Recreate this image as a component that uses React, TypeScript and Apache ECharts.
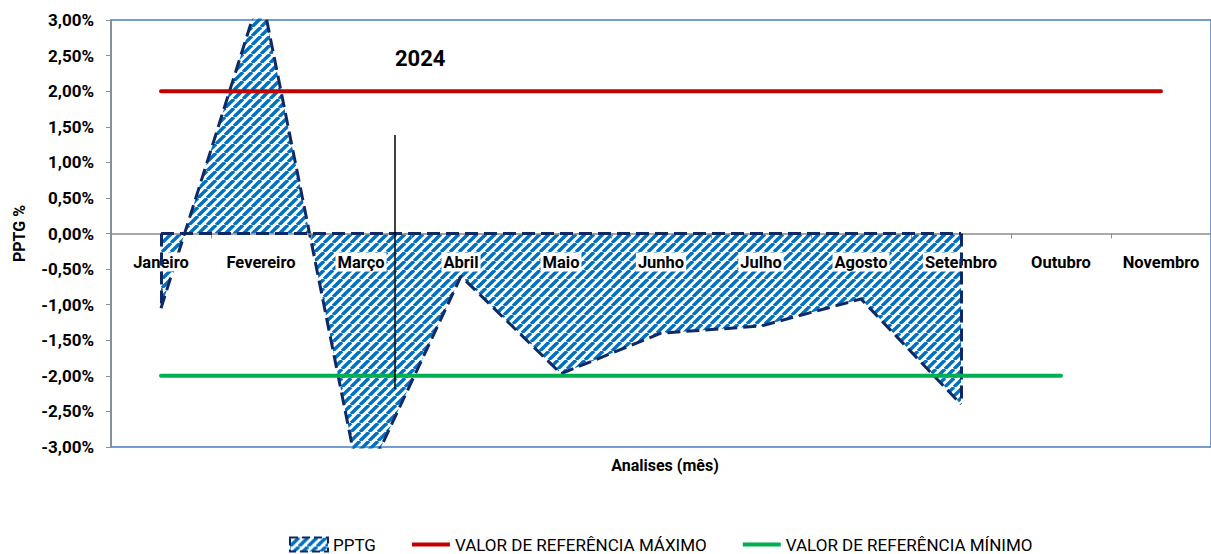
import React, { useEffect, useRef } from 'react';
import * as echarts from 'echarts';

const months = ['Janeiro', 'Fevereiro', 'Março', 'Abril', 'Maio', 'Junho', 'Julho', 'Agosto', 'Setembro', 'Outubro', 'Novembro'];
const pptg: (number | null)[] = [-1.05, 3.4, -3.6, -0.6, -1.97, -1.4, -1.3, -0.92, -2.4, null, null];
const refMax: (number | null)[] = [2, 2, 2, 2, 2, 2, 2, 2, 2, 2, 2];
const refMin: (number | null)[] = [-2, -2, -2, -2, -2, -2, -2, -2, -2, -2, null];
const yMin = -3;
const yMax = 3;
const yStep = 0.5;

const NAVY = '#0E2A66';
const STRIPE = '#0070C0';
const FONT = 'Roboto, sans-serif';
const LINE_ICON = 'path://M0,0H40V4H0Z';

function makeStripe(size: number) {
  const c = document.createElement('canvas');
  c.width = size;
  c.height = size;
  const ctx = c.getContext('2d')!;
  ctx.strokeStyle = STRIPE;
  ctx.lineWidth = 3.4;
  for (const o of [-size, 0, size]) {
    ctx.beginPath();
    ctx.moveTo(o, size);
    ctx.lineTo(o + size, 0);
    ctx.stroke();
  }
  return c.toDataURL();
}

export default function App() {
  const ref = useRef<HTMLDivElement>(null);
  useEffect(() => {
    document.body.style.margin = '0';
    const chart = echarts.init(ref.current!, null, { renderer: 'svg' });
    const size = 9;
    const pattern: any = { image: makeStripe(size), repeat: 'repeat', imageWidth: size, imageHeight: size };
    const lastIdx = pptg.reduce((acc: number, v, i) => (v != null ? i : acc), 0);
    const base = pptg.map((v) => (v == null ? null : 0));
    const dashed = { color: NAVY, width: 3, type: [13, 6] as any };
    const gridTop = 20;
    const gridHeight = 427;
    const zeroOffset = -gridHeight * (0 - yMin) / (yMax - yMin);

    chart.setOption({
      animation: false,
      backgroundColor: '#fff',
      textStyle: { fontFamily: FONT },
      grid: { left: 111, top: gridTop, width: 1102, height: gridHeight, show: true, borderColor: '#4A7EBB', borderWidth: 1.5, backgroundColor: 'transparent' },
      title: {
        text: '2024',
        left: 390,
        top: 42,
        textStyle: { fontFamily: FONT, fontSize: 22, fontWeight: 'bold', color: '#000' },
      },
      legend: {
        left: 284,
        top: 531,
        itemGap: 36,
        itemWidth: 38,
        itemHeight: 14,
        textStyle: { fontFamily: FONT, fontSize: 17, color: '#000' },
        data: [
          { name: 'PPTG', icon: 'rect', itemStyle: { color: pattern, borderColor: NAVY, borderWidth: 2, borderType: 'dashed' } },
          { name: 'VALOR DE REFERÊNCIA MÁXIMO', icon: LINE_ICON, itemStyle: { color: '#C00000' } },
          { name: 'VALOR DE REFERÊNCIA MÍNIMO', icon: LINE_ICON, itemStyle: { color: '#00B050' } },
        ],
      },
      xAxis: {
        type: 'category',
        data: months,
        boundaryGap: true,
        position: 'bottom',
        offset: zeroOffset,
        z: 3,
        axisLine: { onZero: false, lineStyle: { color: '#8C8C8C', width: 1.5 } },
        axisTick: { show: true, interval: 0, length: 5, lineStyle: { color: '#8C8C8C' } },
        axisLabel: {
          interval: 0,
          margin: 19,
          fontFamily: FONT,
          fontSize: 16.5,
          fontWeight: 'bold',
          color: '#000',
          backgroundColor: '#fff',
          padding: [1, 2],
        },
        splitLine: { show: false },
      },
      yAxis: {
        type: 'value',
        min: yMin,
        max: yMax,
        interval: yStep,
        name: 'PPTG %',
        nameLocation: 'middle',
        nameGap: 84,
        nameTextStyle: { fontFamily: FONT, fontSize: 16, fontWeight: 'bold', color: '#000' },
        axisLine: { show: true, lineStyle: { color: '#8C8C8C', width: 1.5 } },
        axisTick: { show: true, length: 5, lineStyle: { color: '#8C8C8C' } },
        axisLabel: {
          margin: 17,
          fontFamily: FONT,
          fontSize: 17,
          fontWeight: 'bold',
          color: '#000',
          formatter: (v: number) => v.toFixed(2).replace('.', ',') + '%',
        },
        splitLine: { show: false },
      },
      graphic: [
        {
          type: 'line',
          z: 100,
          shape: { x1: 395, y1: 135, x2: 395, y2: 389 },
          style: { stroke: '#000', lineWidth: 1.5 },
        },
        {
          type: 'text',
          x: 665,
          y: 465,
          style: { text: 'Analises (mês)', fontFamily: FONT, fontSize: 16, fontWeight: 'bold', fill: '#000', align: 'center', verticalAlign: 'middle' },
        },
      ],
      series: [
        {
          name: 'PPTG',
          type: 'line',
          data: pptg.map((v) => (v == null ? '-' : v)),
          symbol: 'none',
          z: 2,
          clip: true,
          lineStyle: dashed,
          itemStyle: { color: STRIPE },
          areaStyle: { color: pattern, opacity: 1 },
        },
        {
          name: 'PPTG-base',
          type: 'line',
          data: base.map((v) => (v == null ? '-' : v)),
          symbol: 'none',
          z: 4,
          lineStyle: dashed,
          markLine: {
            symbol: 'none',
            silent: true,
            animation: false,
            label: { show: false },
            lineStyle: dashed,
            data: [
              [{ coord: [0, 0] }, { coord: [0, pptg[0]] }],
              [{ coord: [lastIdx, 0] }, { coord: [lastIdx, pptg[lastIdx]] }],
            ] as any,
          },
        },
        {
          name: 'VALOR DE REFERÊNCIA MÁXIMO',
          type: 'line',
          data: refMax.map((v) => (v == null ? '-' : v)),
          symbol: 'none',
          z: 5,
          itemStyle: { color: '#C00000' },
          lineStyle: { color: '#C00000', width: 4, cap: 'round' },
        },
        {
          name: 'VALOR DE REFERÊNCIA MÍNIMO',
          type: 'line',
          data: refMin.map((v) => (v == null ? '-' : v)),
          symbol: 'none',
          z: 5,
          itemStyle: { color: '#00B050' },
          lineStyle: { color: '#00B050', width: 4, cap: 'round' },
        },
      ],
    });
    return () => chart.dispose();
  }, []);
  return <div ref={ref} style={{ width: 1211, height: 554 }} />;
}
